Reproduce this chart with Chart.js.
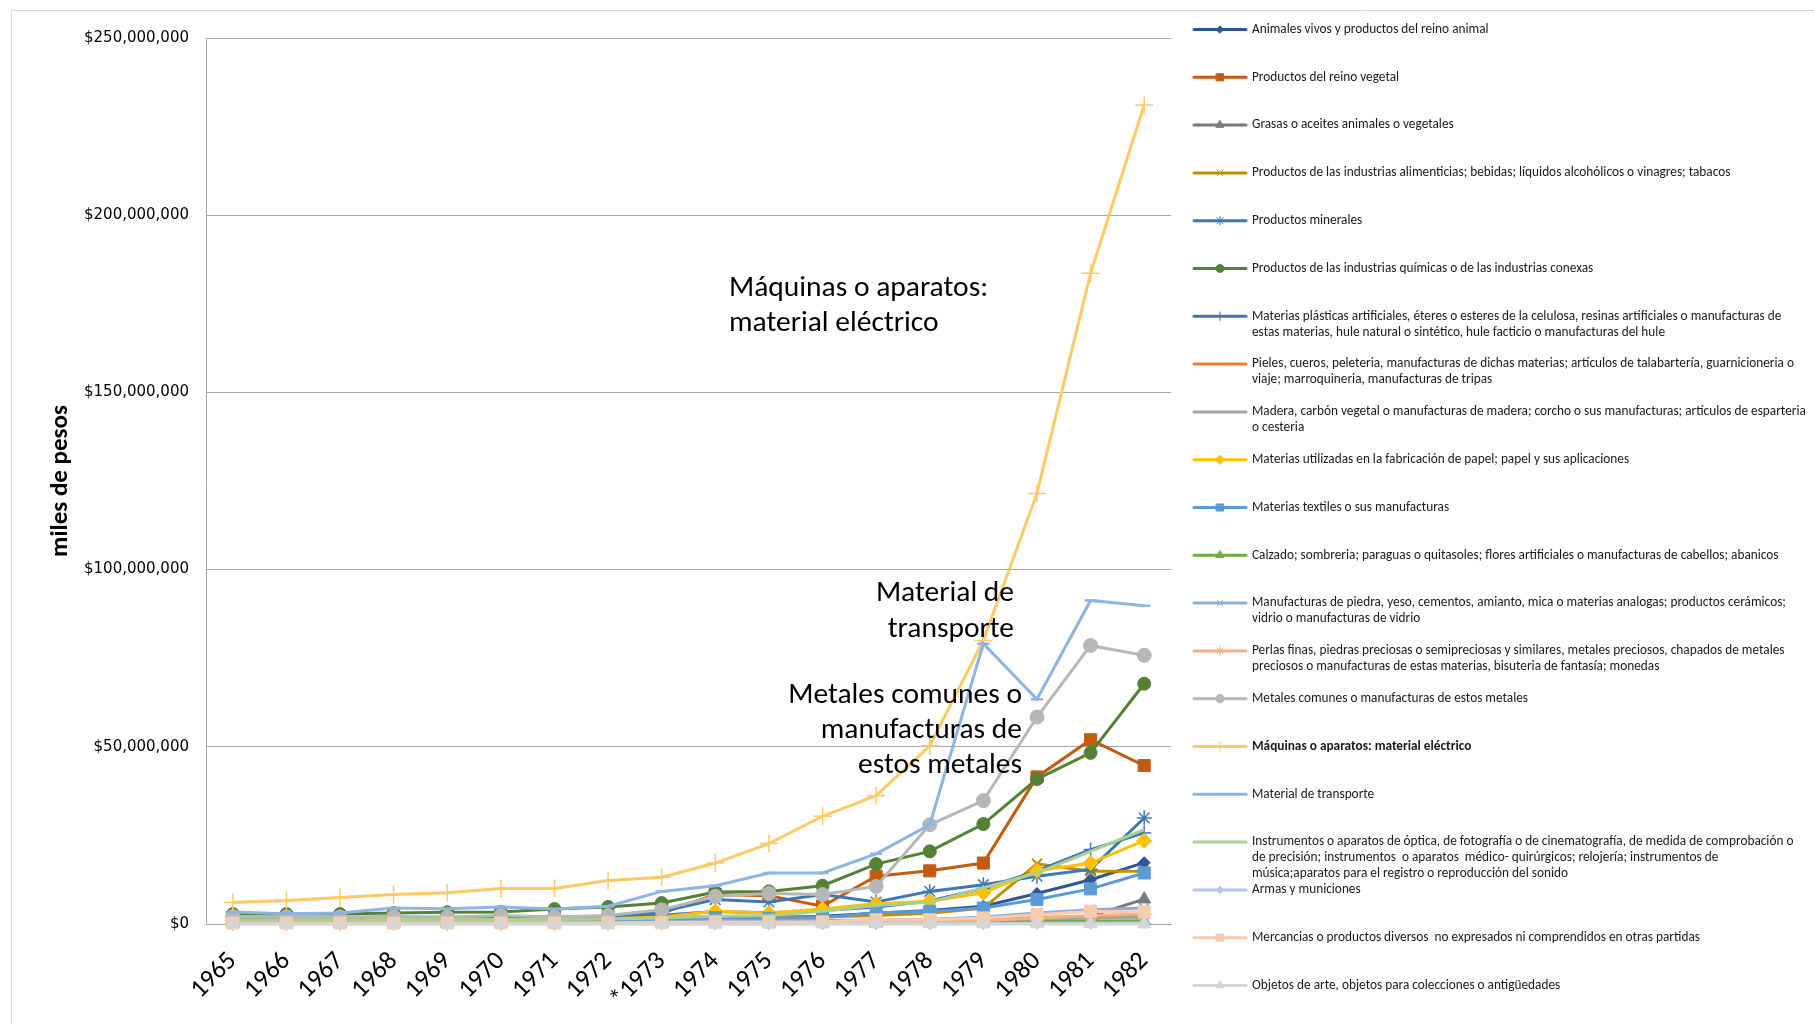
<!DOCTYPE html>
<html>
<head>
<meta charset="utf-8">
<script src="https://cdn.jsdelivr.net/npm/chart.js@4/dist/chart.umd.min.js"></script>
<style>
  html, body { margin: 0; padding: 0; background: #fff; }
  #wrap { position: relative; width: 1814px; height: 1024px; }
</style>
</head>
<body>
<div id="wrap"><canvas id="c" width="1814" height="1024"></canvas></div>
<script>
// ---------- DATA (values in millions of "miles de pesos") ----------
const years = ['1965','1966','1967','1968','1969','1970','1971','1972','*1973','1974','1975','1976','1977','1978','1979','1980','1981','1982'];

const animales     = [1.0,1.0,1.0,1.1,1.2,1.2,1.2,1.4,1.8,2.0,1.8,2.2,3.0,3.8,5.0,8.6,12.5,17.3];
const vegetal      = [1.8,1.6,1.7,1.8,1.8,2.0,1.8,2.0,3.0,8.3,8.0,5.0,13.5,15.0,17.2,41.5,52.0,44.7];
const grasas       = [0.4,0.4,0.4,0.4,0.4,0.4,0.4,0.4,0.4,0.5,0.4,0.4,0.4,0.5,0.5,0.6,2.2,7.0];
const alimentos    = [0.8,0.8,0.9,1.0,1.0,1.1,1.1,1.2,1.4,1.8,1.8,2.0,2.4,3.0,4.5,17.0,14.9,14.9];
const minerales    = [2.0,1.8,1.8,1.9,1.9,2.0,2.0,2.2,3.5,6.9,6.2,8.3,6.2,9.2,11.1,13.5,15.4,29.9];
const quimicas     = [2.8,2.8,2.8,3.1,3.3,3.4,4.2,4.8,5.9,9.0,9.2,10.8,16.9,20.5,28.2,40.9,48.3,67.8];
const plasticos    = [1.0,1.0,1.1,1.3,1.4,1.6,1.7,2.0,2.5,3.5,3.2,3.8,4.8,6.5,10.0,15.0,21.0,25.7];
const pieles       = [0.3,0.3,0.3,0.3,0.4,0.4,0.4,0.5,0.7,0.9,0.8,0.9,1.0,1.2,1.5,1.8,2.2,2.4];
const madera       = [0.4,0.4,0.4,0.4,0.5,0.5,0.5,0.6,0.8,1.0,0.9,1.0,1.1,1.3,1.6,1.5,1.6,1.8];
const papel        = [1.0,1.0,1.1,1.2,1.2,1.3,1.3,1.5,2.0,3.6,3.1,4.2,5.7,6.4,8.8,15.0,17.2,23.5];
const textiles     = [0.9,0.9,0.9,1.0,1.0,1.0,1.0,1.1,1.3,1.8,1.6,1.8,3.2,3.6,4.5,6.9,9.9,14.4];
const calzado      = [0.3,0.3,0.3,0.3,0.3,0.3,0.3,0.3,0.4,0.5,0.5,0.5,0.5,0.6,0.6,0.7,0.8,0.9];
const piedra       = [0.3,0.3,0.3,0.3,0.3,0.4,0.4,0.4,0.6,0.8,0.8,0.9,1.0,1.3,2.0,3.1,4.0,4.5];
const perlas       = [0.2,0.2,0.2,0.2,0.2,0.2,0.2,0.3,0.4,0.5,0.5,0.5,0.6,0.8,1.0,1.6,2.4,2.8];
const metales      = [2.1,2.0,2.0,2.1,1.9,2.4,2.0,2.4,4.0,7.8,8.6,8.3,10.6,28.0,34.8,58.4,78.6,75.8];
const maquinas     = [6.1,6.6,7.5,8.3,8.8,10.0,10.0,12.3,13.2,17.2,22.7,30.4,36.2,50.3,80.0,121.5,183.6,231.1];
const transporte   = [3.4,2.9,3.1,4.5,4.3,4.8,4.2,5.0,9.2,10.8,14.4,14.4,19.8,28.0,79.1,63.4,91.3,89.8];
const instrumentos = [1.2,1.2,1.2,1.2,1.2,1.3,1.3,1.4,1.7,2.2,2.4,3.6,5.2,6.1,10.2,14.4,20.5,26.6];
const armas        = [0.1,0.1,0.1,0.1,0.1,0.1,0.1,0.1,0.1,0.1,0.1,0.1,0.1,0.1,0.1,0.2,0.2,0.3];
const mercancias   = [0.3,0.3,0.3,0.3,0.3,0.3,0.3,0.3,0.4,0.5,0.5,0.6,1.2,1.2,1.7,2.6,3.6,3.4];
const objetos      = [0.0,0.0,0.0,0.0,0.0,0.0,0.0,0.0,0.0,0.0,0.0,0.0,0.0,0.0,0.0,0.0,0.0,0.0];

const yTicksMax = 250;   // millions
const yTicksStep = 50;

const seriesLabels = [
  ['Animales vivos y productos del reino animal'],
  ['Productos del reino vegetal'],
  ['Grasas o aceites animales o vegetales'],
  ['Productos de las industrias alimenticias; bebidas; líquidos alcohólicos o vinagres; tabacos'],
  ['Productos minerales'],
  ['Productos de las industrias químicas o de las industrias conexas'],
  ['Materias plásticas artificiales, éteres o esteres de la celulosa, resinas artificiales o manufacturas de', 'estas materias, hule natural o sintético, hule facticio o manufacturas del hule'],
  ['Pieles, cueros, peleteria, manufacturas de dichas materias; artículos de talabartería, guarnicioneria o', 'viaje; marroquineria, manufacturas de tripas'],
  ['Madera, carbón vegetal o manufacturas de madera; corcho o sus manufacturas; artículos de esparteria', 'o cesteria'],
  ['Materias utilizadas en la fabricación de papel; papel y sus aplicaciones'],
  ['Materias textiles o sus manufacturas'],
  ['Calzado; sombreria; paraguas o quitasoles; flores artificiales o manufacturas de cabellos; abanicos'],
  ['Manufacturas de piedra, yeso, cementos, amianto, mica o materias analogas; productos cerámicos;', 'vidrio o manufacturas de vidrio'],
  ['Perlas finas, piedras preciosas o semipreciosas y similares, metales preciosos, chapados de metales', 'preciosos o manufacturas de estas materias, bisuteria de fantasía; monedas'],
  ['Metales comunes o manufacturas de estos metales'],
  ['Máquinas o aparatos: material eléctrico'],
  ['Material de transporte'],
  ['Instrumentos o aparatos de óptica, de fotografía o de cinematografía, de medida de comprobación o', 'de precisión; instrumentos  o aparatos  médico- quirúrgicos; relojería; instrumentos de', 'música;aparatos para el registro o reproducción del sonido'],
  ['Armas y municiones'],
  ['Mercancias o productos diversos  no expresados ni comprendidos en otras partidas'],
  ['Objetos de arte, objetos para colecciones o antigüedades']
];
const seriesValues = [animales, vegetal, grasas, alimentos, minerales, quimicas, plasticos, pieles, madera, papel,
  textiles, calzado, piedra, perlas, metales, maquinas, transporte, instrumentos, armas, mercancias, objetos];

// ---------- STYLES ----------
const styles = [
  {c:'#2F5597', p:'rectRot', r:6},
  {c:'#C55A11', p:'rect', r:8.5},
  {c:'#7B7B7B', p:'triangle', r:7.5},
  {c:'#BF9000', p:'crossRot', r:7, bw:2},
  {c:'#3C78B4', p:'star', r:7.5, bw:1.5},
  {c:'#548235', p:'circle', r:6.5},
  {c:'#4472C4', p:'cross', r:7, bw:1.5},
  {c:'#ED7D31', p:false, r:0},
  {c:'#A5A5A5', p:false, r:0},
  {c:'#FFC000', p:'rectRot', r:7.5},
  {c:'#5B9BD5', p:'rect', r:8.5},
  {c:'#70AD47', p:'triangle', r:7.5},
  {c:'#8FAADC', p:'crossRot', r:7, bw:2},
  {c:'#F4B183', p:'star', r:7.5, bw:1.5},
  {c:'#B7B7B7', p:'circle', r:7},
  {c:'#FFCA66', p:'cross', r:9, bw:1.5},
  {c:'#8EB4E3', p:'line', r:6, bw:2.5},
  {c:'#A9D18E', p:false, r:0},
  {c:'#B4C7E7', p:'rectRot', r:6},
  {c:'#F8CBAD', p:'rect', r:8.5},
  {c:'#D5D5D5', p:'triangle', r:7.5}
];

const FONT = 'Carlito, Lato, "Noto Sans", sans-serif';

const datasets = seriesValues.map((vals, i) => {
  const s = styles[i];
  return {
    label: seriesLabels[i].join(' '),
    data: vals,
    borderColor: s.c,
    backgroundColor: s.c,
    borderWidth: 3,
    pointStyle: s.p === false ? false : s.p,
    pointRadius: s.r,
    pointHoverRadius: s.r,
    pointBorderWidth: s.bw || 1,
    pointBackgroundColor: s.c,
    pointBorderColor: s.c,
    tension: 0,
    fill: false,
    clip: false,
    order: seriesValues.length - i
  };
});

// ---------- PLUGINS ----------
const framePlugin = {
  id: 'frame',
  beforeDraw(chart) {
    const ctx = chart.ctx;
    ctx.save();
    ctx.fillStyle = '#fff';
    ctx.fillRect(0, 0, chart.width, chart.height);
    ctx.strokeStyle = '#d9d9d9';
    ctx.lineWidth = 1;
    ctx.beginPath();
    ctx.moveTo(11.5, chart.height);
    ctx.lineTo(11.5, 10.5);
    ctx.lineTo(chart.width, 10.5);
    ctx.stroke();
    ctx.restore();
  }
};

function drawMarker(ctx, style, r, x, y, color, bw) {
  if (Chart.helpers && Chart.helpers.drawPoint) {
    ctx.fillStyle = color; ctx.strokeStyle = color; ctx.lineWidth = bw;
    Chart.helpers.drawPoint(ctx, {pointStyle: style, radius: r, borderWidth: bw, rotation: 0}, x, y);
  }
}

const legendPlugin = {
  id: 'sideLegend',
  afterDraw(chart) {
    const ctx = chart.ctx;
    const top = 29.5, step = 47.8, lineH = 16;
    ctx.save();
    chart.data.datasets.forEach((ds, i) => {
      const y = top + i * step;
      const s = styles[i];
      ctx.strokeStyle = s.c;
      ctx.lineWidth = 3;
      ctx.lineCap = 'round';
      ctx.beginPath();
      ctx.moveTo(1194, y);
      ctx.lineTo(1246, y);
      ctx.stroke();
      if (s.p && s.p !== 'line') {
        drawMarker(ctx, s.p, Math.min(s.r * 0.6, 5), 1220, y, s.c, 1);
      }
      ctx.fillStyle = '#1a1a1a';
      ctx.textAlign = 'left';
      ctx.textBaseline = 'middle';
      ctx.font = (i === 15 ? 'bold ' : '') + '13.3px ' + FONT;
      seriesLabels[i].forEach((ln, k) => ctx.fillText(ln, 1252, y + k * lineH));
    });
    ctx.restore();
  }
};

const annotations = [
  {lines: ['Máquinas o aparatos:', 'material eléctrico'], x: 729, y: 289, align: 'left', lh: 35},
  {lines: ['Material de', 'transporte'], x: 1014, y: 594, align: 'right', lh: 36},
  {lines: ['Metales comunes o', 'manufacturas de', 'estos metales'], x: 1022, y: 696, align: 'right', lh: 35}
];

const annotPlugin = {
  id: 'annot',
  afterDatasetsDraw(chart) {
    const ctx = chart.ctx;
    ctx.save();
    ctx.fillStyle = '#000';
    ctx.font = '29.5px ' + FONT;
    ctx.textBaseline = 'middle';
    annotations.forEach(a => {
      ctx.textAlign = a.align;
      a.lines.forEach((ln, k) => ctx.fillText(ln, a.x, a.y + k * a.lh));
    });
    ctx.restore();
  }
};

// ---------- CHART ----------
new Chart(document.getElementById('c'), {
  type: 'line',
  data: { labels: years, datasets },
  options: {
    responsive: false,
    devicePixelRatio: 1,
    animation: false,
    events: [],
    layout: { padding: { left: 0, top: 38, right: 643, bottom: 0 } },
    plugins: {
      legend: { display: false },
      tooltip: { enabled: false }
    },
    scales: {
      x: {
        offset: true,
        grid: { display: false, drawTicks: false },
        border: { display: true, color: '#a6a6a6', width: 1 },
        ticks: {
          autoSkip: false, maxRotation: 45, minRotation: 45,
          color: '#000', padding: 22,
          font: { family: FONT, size: 26 }
        },
        afterFit(s) { s.height = 100; }
      },
      y: {
        min: 0, max: yTicksMax,
        grid: { color: '#a6a6a6', drawTicks: false, lineWidth: 1 },
        border: { display: true, color: '#a6a6a6', width: 1 },
        ticks: {
          stepSize: yTicksStep, color: '#000', padding: 17,
          font: { family: '"DejaVu Sans", Verdana, sans-serif', size: 15 },
          callback: v => '$' + (v * 1e6).toLocaleString('en-US')
        },
        title: {
          display: true, text: 'miles de pesos', color: '#000',
          font: { family: FONT, size: 25, weight: 'bold' },
          padding: { top: 46, bottom: 0 }
        },
        afterFit(s) { s.width = 206; }
      }
    }
  },
  plugins: [framePlugin, annotPlugin, legendPlugin]
});
</script>
</body>
</html>
